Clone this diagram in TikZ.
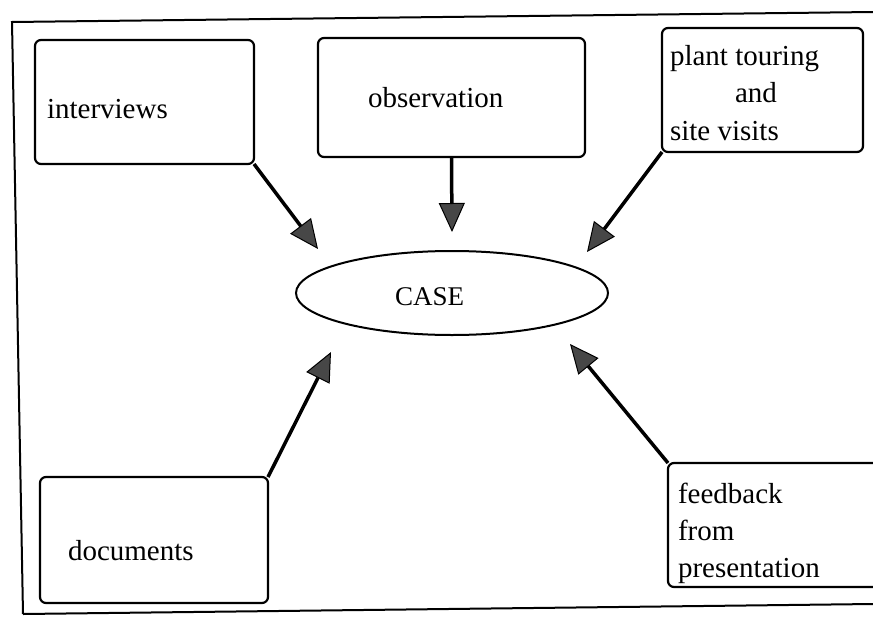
\documentclass[tikz,border=0pt]{standalone}
\usepackage{fontspec}
\setmainfont{Liberation Serif}
\usetikzlibrary{arrows.meta,shapes.geometric}
\begin{document}
\begin{tikzpicture}[x=1pt,y=-1pt,
  box/.style={draw, line width=2.2pt, rounded corners=6pt, inner sep=0pt, outer sep=0pt},
  lbl/.style={anchor=base west, inner sep=0pt, outer sep=0pt, font=\fontsize{29}{35}\selectfont},
  feed/.style={line width=3.5pt, -{Triangle[length=29pt,width=26pt,fill=black!72,line width=1pt]}},
]
\useasboundingbox (0,0) rectangle (873,616);

% outer frame (open on the right)
\coordinate (ftl) at (12,22);
\coordinate (ftr) at (873,12);
\coordinate (fbl) at (23,614);
\coordinate (fbr) at (873,604);
\draw[line width=2pt] (ftr) -- (ftl) -- (fbl);
\draw[line width=2pt] (fbl) -- (fbr);

% source boxes
\node[box, minimum width=219pt, minimum height=124pt] (interviews) at (144.5,102) {};
\node[box, minimum width=267pt, minimum height=119pt] (observation) at (451.5,97.5) {};
\node[box, minimum width=201pt, minimum height=124pt] (plant) at (762.5,90) {};
\node[box, minimum width=228pt, minimum height=126pt] (documents) at (154,540) {};
\node[box, minimum width=216pt, minimum height=124pt] (feedback) at (776,525) {};

% box texts
\node[lbl] (tInterviews) at (47,118) {interviews};
\node[lbl] (tObservation) at (368,107) {observation};
\node[lbl] (tPlantA) at (670,65) {plant touring};
\node[lbl] (tPlantB) at (735,102) {and};
\node[lbl] (tPlantC) at (670,140) {site visits};
\node[lbl] (tDocuments) at (68,560) {documents};
\node[lbl] (tFeedA) at (678,503) {feedback};
\node[lbl] (tFeedB) at (678,540) {from};
\node[lbl] (tFeedC) at (678,577) {presentation};

% central case
\node[draw, ellipse, line width=2pt, minimum width=312pt, minimum height=84pt, inner sep=0pt] (case) at (452,293) {};
\node[lbl, font=\fontsize{27}{32}\selectfont] (tCase) at (395,305) {CASE};

% arrow tips pointing at the case
\coordinate (pInterviews) at (318,249);
\coordinate (pObservation) at (452,232);
\coordinate (pPlant) at (587,252);
\coordinate (pDocuments) at (331,352);
\coordinate (pFeedback) at (570,344);

\draw[feed] (interviews.south east) -- (pInterviews);
\draw[feed] (observation.south) -- (pObservation);
\draw[feed] (plant.south west) -- (pPlant);
\draw[feed] (documents.north east) -- (pDocuments);
\draw[feed] (feedback.north west) -- (pFeedback);
\end{tikzpicture}
\end{document}
